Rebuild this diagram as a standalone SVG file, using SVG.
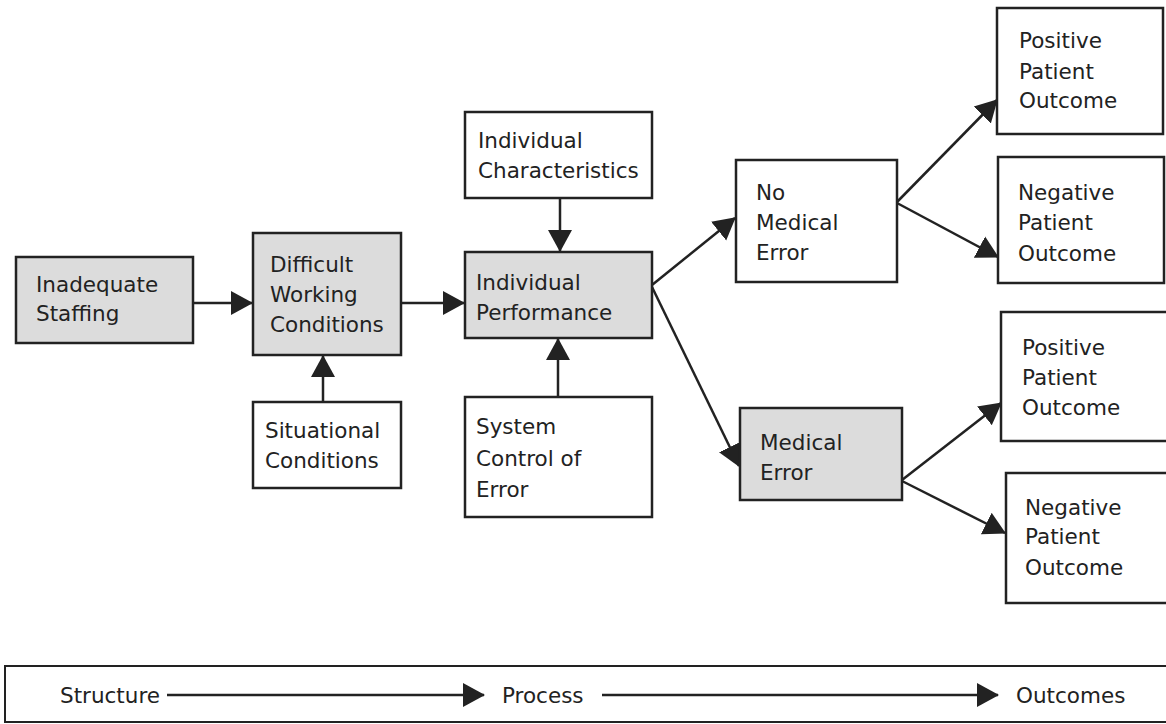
<svg xmlns="http://www.w3.org/2000/svg" width="1166" height="724" viewBox="0 0 1166 724">
  <style>
    .box { fill: #ffffff; stroke: #222; stroke-width: 2.5; }
    .shaded { fill: #dcdcdc; }
    .lbl { font-family: "DejaVu Sans", "Liberation Sans", sans-serif; font-size: 21.5px; fill: #222; }
    .edge { fill: none; stroke: #222; stroke-width: 2.5; }
  </style>
  <defs>
    <marker id="arrow" markerUnits="userSpaceOnUse" markerWidth="24" markerHeight="26" viewBox="0 0 24 26" refX="21" refY="13" orient="auto">
      <path d="M0,1 L22,13 L0,25 Z" fill="#222"/>
    </marker>
  </defs>
  <rect width="1166" height="724" fill="#ffffff"/>

  <g id="connectors">
    <line class="edge" x1="193" y1="303" x2="252" y2="303" marker-end="url(#arrow)"/>
    <line class="edge" x1="323" y1="402" x2="323" y2="356" marker-end="url(#arrow)"/>
    <line class="edge" x1="401" y1="303" x2="464" y2="303" marker-end="url(#arrow)"/>
    <line class="edge" x1="560" y1="198" x2="560" y2="251" marker-end="url(#arrow)"/>
    <line class="edge" x1="558" y1="397" x2="558" y2="339" marker-end="url(#arrow)"/>
    <line class="edge" x1="652" y1="285" x2="735" y2="218" marker-end="url(#arrow)"/>
    <line class="edge" x1="652" y1="287" x2="739" y2="466" marker-end="url(#arrow)"/>
    <line class="edge" x1="897" y1="202" x2="997" y2="100" marker-end="url(#arrow)"/>
    <line class="edge" x1="897" y1="203" x2="998" y2="257" marker-end="url(#arrow)"/>
    <line class="edge" x1="902" y1="480" x2="1001" y2="403" marker-end="url(#arrow)"/>
    <line class="edge" x1="902" y1="481" x2="1005" y2="533" marker-end="url(#arrow)"/>
  </g>

  <g id="inadequate-staffing">
    <rect class="box shaded" x="16" y="257" width="177" height="86"/>
    <text class="lbl" x="36" y="292">Inadequate</text>
    <text class="lbl" x="36" y="321">Staffing</text>
  </g>
  <g id="difficult-working-conditions">
    <rect class="box shaded" x="253" y="233" width="148" height="122"/>
    <text class="lbl" x="270" y="272">Difficult</text>
    <text class="lbl" x="270" y="302">Working</text>
    <text class="lbl" x="270" y="332">Conditions</text>
  </g>
  <g id="situational-conditions">
    <rect class="box" x="253" y="402" width="148" height="86"/>
    <text class="lbl" x="265" y="438">Situational</text>
    <text class="lbl" x="265" y="468">Conditions</text>
  </g>
  <g id="individual-characteristics">
    <rect class="box" x="465" y="112" width="187" height="86"/>
    <text class="lbl" x="478" y="148">Individual</text>
    <text class="lbl" x="478" y="178">Characteristics</text>
  </g>
  <g id="individual-performance">
    <rect class="box shaded" x="465" y="252" width="187" height="86"/>
    <text class="lbl" x="476" y="290">Individual</text>
    <text class="lbl" x="476" y="320">Performance</text>
  </g>
  <g id="system-control">
    <rect class="box" x="465" y="397" width="187" height="120"/>
    <text class="lbl" x="476" y="434">System</text>
    <text class="lbl" x="476" y="466">Control of</text>
    <text class="lbl" x="476" y="497">Error</text>
  </g>
  <g id="no-medical-error">
    <rect class="box" x="736" y="160" width="161" height="122"/>
    <text class="lbl" x="756" y="200">No</text>
    <text class="lbl" x="756" y="230">Medical</text>
    <text class="lbl" x="756" y="260">Error</text>
  </g>
  <g id="medical-error">
    <rect class="box shaded" x="740" y="408" width="162" height="92"/>
    <text class="lbl" x="760" y="450">Medical</text>
    <text class="lbl" x="760" y="480">Error</text>
  </g>
  <g id="positive-outcome-1">
    <rect class="box" x="997" y="8" width="166" height="126"/>
    <text class="lbl" x="1019" y="48">Positive</text>
    <text class="lbl" x="1019" y="79">Patient</text>
    <text class="lbl" x="1019" y="108">Outcome</text>
  </g>
  <g id="negative-outcome-1">
    <rect class="box" x="998" y="157" width="166" height="126"/>
    <text class="lbl" x="1018" y="200">Negative</text>
    <text class="lbl" x="1018" y="230">Patient</text>
    <text class="lbl" x="1018" y="261">Outcome</text>
  </g>
  <g id="positive-outcome-2">
    <rect class="box" x="1001" y="312" width="168" height="129"/>
    <text class="lbl" x="1022" y="355">Positive</text>
    <text class="lbl" x="1022" y="385">Patient</text>
    <text class="lbl" x="1022" y="415">Outcome</text>
  </g>
  <g id="negative-outcome-2">
    <rect class="box" x="1006" y="473" width="163" height="130"/>
    <text class="lbl" x="1025" y="515">Negative</text>
    <text class="lbl" x="1025" y="544">Patient</text>
    <text class="lbl" x="1025" y="575">Outcome</text>
  </g>

  <g id="legend">
    <rect x="5" y="666" width="1170" height="56" fill="none" stroke="#222" stroke-width="2"/>
    <text class="lbl" x="60" y="703">Structure</text>
    <line class="edge" x1="167" y1="695" x2="484" y2="695" marker-end="url(#arrow)"/>
    <text class="lbl" x="502" y="703">Process</text>
    <line class="edge" x1="602" y1="695" x2="998" y2="695" marker-end="url(#arrow)"/>
    <text class="lbl" x="1016" y="703">Outcomes</text>
  </g>
</svg>
